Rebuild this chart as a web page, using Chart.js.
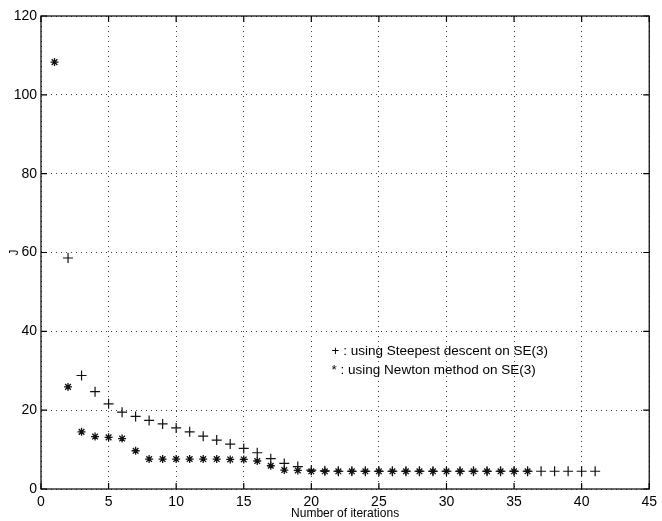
<!DOCTYPE html>
<html>
<head>
<meta charset="utf-8">
<script src="https://cdn.jsdelivr.net/npm/chart.js@4.4.0/dist/chart.umd.min.js"></script>
<style>
  html, body { margin: 0; padding: 0; background: #fff; }
  #wrap { width: 662px; height: 521px; }
</style>
</head>
<body>
<div id="wrap"><canvas id="chart" width="662" height="521"></canvas></div>
<script>
// iterations and cost J
var steepestIter = [2, 3, 4, 5, 6, 7, 8, 9, 10, 11, 12, 13, 14, 15, 16, 17, 18, 19, 20, 21, 22, 23, 24, 25, 26, 27, 28, 29, 30, 31, 32, 33, 34, 35, 36, 37, 38, 39, 40, 41];
var steepestJ = [58.6, 28.8, 24.7, 21.6, 19.5, 18.4, 17.4, 16.5, 15.5, 14.5, 13.4, 12.4, 11.4, 10.3, 9.2, 7.7, 6.5, 5.7, 4.8, 4.6, 4.5, 4.5, 4.5, 4.5, 4.5, 4.5, 4.5, 4.5, 4.5, 4.5, 4.5, 4.5, 4.5, 4.5, 4.5, 4.5, 4.5, 4.5, 4.5, 4.5];
var newtonIter = [1, 2, 3, 4, 5, 6, 7, 8, 9, 10, 11, 12, 13, 14, 15, 16, 17, 18, 19, 20, 21, 22, 23, 24, 25, 26, 27, 28, 29, 30, 31, 32, 33, 34, 35, 36];
var newtonJ = [108.3, 25.9, 14.5, 13.3, 13.1, 12.8, 9.7, 7.6, 7.6, 7.6, 7.6, 7.6, 7.6, 7.5, 7.5, 7.1, 5.9, 4.8, 4.7, 4.5, 4.5, 4.5, 4.5, 4.5, 4.5, 4.5, 4.5, 4.5, 4.5, 4.5, 4.5, 4.5, 4.5, 4.5, 4.5, 4.5];
var xTicks = [0, 5, 10, 15, 20, 25, 30, 35, 40, 45];
var yTicks = [0, 20, 40, 60, 80, 100, 120];
var notes = ['+ : using Steepest descent on SE(3)', '* : using Newton method on SE(3)'];

function toPoints(xs, ys) {
    return xs.map(function(x, i) { return { x: x, y: ys[i] }; });
}

// matlab style box, inward ticks and the text annotation
var boxPlugin = {
    id: 'box',
    afterDatasetsDraw: function(chart) {
        var ctx = chart.ctx;
        var a = chart.chartArea;
        var xs = chart.scales.x, ys = chart.scales.y;
        ctx.save();
        ctx.strokeStyle = '#000';
        ctx.lineWidth = 1.2;
        ctx.setLineDash([]);
        ctx.strokeRect(a.left, a.top, a.right - a.left, a.bottom - a.top);
        ctx.beginPath();
        xTicks.forEach(function(v) {
            var px = xs.getPixelForValue(v);
            ctx.moveTo(px, a.bottom); ctx.lineTo(px, a.bottom - 6);
            ctx.moveTo(px, a.top); ctx.lineTo(px, a.top + 6);
        });
        yTicks.forEach(function(v) {
            var py = ys.getPixelForValue(v);
            ctx.moveTo(a.left, py); ctx.lineTo(a.left + 6, py);
            ctx.moveTo(a.right, py); ctx.lineTo(a.right - 6, py);
        });
        ctx.stroke();

        ctx.fillStyle = '#000';
        ctx.font = '13.5px "Liberation Sans", Arial, sans-serif';
        ctx.textBaseline = 'middle';
        ctx.fillText(notes[0], xs.getPixelForValue(21.5), ys.getPixelForValue(35));
        ctx.fillText(notes[1], xs.getPixelForValue(21.5), ys.getPixelForValue(30));
        ctx.restore();
    }
};

var tickFont = { family: '"Liberation Sans", Arial, sans-serif', size: 14 };

var ctx = document.getElementById('chart').getContext('2d');
var chart = new Chart(ctx, {
    type: 'scatter',
    data: {
        datasets: [{
            label: 'Steepest descent',
            data: toPoints(steepestIter, steepestJ),
            pointStyle: 'cross',
            pointRadius: 5,
            borderColor: '#111',
            borderWidth: 1.2,
            showLine: false
        }, {
            label: 'Newton',
            data: toPoints(newtonIter, newtonJ),
            pointStyle: 'star',
            pointRadius: 4,
            borderColor: '#111',
            borderWidth: 1.3,
            showLine: false
        }]
    },
    options: {
        responsive: false,
        animation: false,
        layout: { padding: { top: 16, right: 9, left: 0, bottom: 0 } },
        plugins: {
            legend: { display: false },
            tooltip: { enabled: false }
        },
        scales: {
            x: {
                type: 'linear',
                min: 0, max: 45,
                afterBuildTicks: function(s) { s.ticks = xTicks.map(function(v) { return { value: v }; }); },
                afterFit: function(s) { s.height = 32; },
                ticks: { color: '#000', font: tickFont, padding: 5, maxRotation: 0 },
                grid: { color: '#444', lineWidth: 1, drawTicks: false },
                border: { display: false, dash: [1, 4] },
                title: {
                    display: true, text: 'Number of iterations', color: '#000',
                    font: { family: '"Liberation Sans", Arial, sans-serif', size: 12 },
                    padding: { top: 0, bottom: 0 }
                }
            },
            y: {
                type: 'linear',
                min: 0, max: 120,
                afterBuildTicks: function(s) { s.ticks = yTicks.map(function(v) { return { value: v }; }); },
                afterFit: function(s) { s.width = 41; },
                ticks: { color: '#000', font: tickFont, padding: 4 },
                grid: { color: '#444', lineWidth: 1, drawTicks: false },
                border: { display: false, dash: [1, 4] },
                title: {
                    display: true, text: 'J', color: '#000',
                    font: { family: '"Liberation Sans", Arial, sans-serif', size: 12 },
                    padding: { top: 7, bottom: 0 }
                }
            }
        }
    },
    plugins: [boxPlugin]
});
// the dotted grid only shows up after a second update
chart.options.scales.x.border.dash = [1, 4];
chart.options.scales.y.border.dash = [1, 4];
chart.update();
</script>
</body>
</html>
